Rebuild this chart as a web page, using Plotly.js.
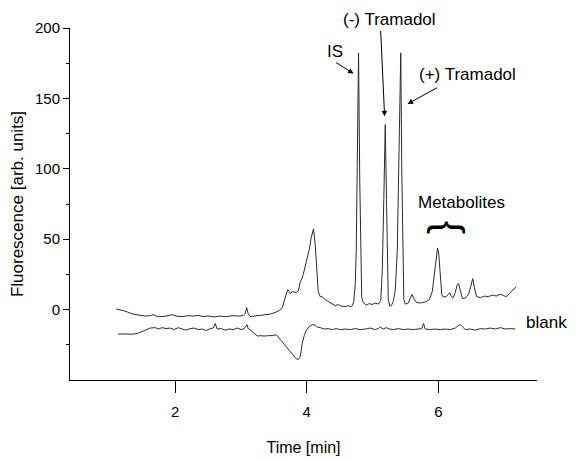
<!DOCTYPE html>
<html>
<head>
<meta charset="utf-8">
<script src="https://cdn.plot.ly/plotly-3.0.1.min.js"></script>
<style>html,body{margin:0;padding:0;background:#fff;}#chart{width:579px;height:461px;}</style>
</head>
<body>
<div id="chart"></div>
<script>
// Sample chromatogram (time in min, fluorescence in arb. units)
var sampleTime = [1.102,1.238,1.360,1.467,1.544,1.621,1.666,1.710,1.801,1.892,1.953,2.014,2.105,2.197,2.273,2.349,2.425,2.501,2.592,2.683,2.775,2.866,2.957,3.033,3.063,3.086,3.109,3.139,3.215,3.291,3.367,3.443,3.519,3.580,3.626,3.656,3.687,3.710,3.732,3.755,3.779,3.809,3.839,3.870,3.900,3.946,3.991,4.037,4.067,4.102,4.128,4.151,4.174,4.204,4.234,4.280,4.356,4.432,4.478,4.523,4.584,4.630,4.660,4.691,4.714,4.737,4.752,4.767,4.787,4.805,4.820,4.835,4.858,4.904,4.950,4.995,5.041,5.087,5.125,5.148,5.171,5.193,5.212,5.224,5.239,5.262,5.285,5.315,5.346,5.376,5.399,5.429,5.444,5.459,5.475,5.497,5.543,5.574,5.599,5.627,5.665,5.726,5.771,5.817,5.863,5.908,5.939,5.969,5.988,6.007,6.029,6.052,6.075,6.121,6.151,6.174,6.197,6.227,6.257,6.288,6.308,6.336,6.366,6.412,6.458,6.488,6.523,6.549,6.580,6.640,6.701,6.762,6.823,6.883,6.942,6.988,7.034,7.079,7.125,7.155,7.186];
var sampleSignal = [0.5,-1.1,-3.2,-4.3,-4.6,-4.3,-3.6,-4.6,-5.0,-4.3,-3.6,-4.6,-5.0,-4.3,-4.6,-4.1,-5.0,-4.5,-5.2,-4.6,-5.0,-4.3,-4.6,-4.3,-2.8,1.4,-2.8,-5.0,-4.6,-4.3,-3.9,-3.2,-2.1,-0.7,1.4,5.7,10.7,14.2,13.1,11.4,12.8,12.4,12.1,13.1,19.2,24.9,32.7,42.6,51.1,57.3,46.2,24.9,12.8,9.2,9.2,7.1,5.0,2.8,3.6,2.5,2.1,2.8,2.1,2.8,5.7,17.8,42.6,92.3,182.3,92.3,35.5,8.5,5.0,3.2,4.3,3.6,4.6,3.9,6.4,28.4,78.1,131.4,78.1,28.4,7.1,2.5,2.8,5.7,14.2,42.6,99.4,182.3,99.4,35.5,7.1,3.9,4.6,8.3,10.7,7.8,5.3,4.6,5.0,5.7,7.1,12.8,24.9,39.1,43.8,39.1,24.9,10.7,8.9,9.2,10.7,12.1,9.2,8.5,12.1,17.8,18.5,14.2,7.8,8.2,10.7,15.6,22.0,15.6,9.2,8.5,9.6,9.2,10.3,9.6,11.0,10.0,9.2,11.4,13.5,14.9,16.3];

// Blank chromatogram
var blankTime = [1.132,1.238,1.345,1.422,1.483,1.544,1.621,1.696,1.741,1.801,1.862,1.923,1.984,2.044,2.105,2.166,2.227,2.288,2.349,2.410,2.471,2.532,2.577,2.608,2.638,2.699,2.760,2.820,2.881,2.942,3.003,3.049,3.090,3.109,3.155,3.201,3.246,3.292,3.352,3.413,3.474,3.535,3.565,3.611,3.672,3.732,3.793,3.839,3.869,3.900,3.915,3.930,3.961,3.991,4.037,4.083,4.128,4.159,4.204,4.265,4.326,4.387,4.448,4.508,4.584,4.660,4.737,4.813,4.889,4.965,5.041,5.087,5.117,5.163,5.208,5.255,5.315,5.391,5.467,5.543,5.619,5.695,5.748,5.775,5.801,5.877,5.953,6.029,6.106,6.182,6.257,6.303,6.334,6.364,6.410,6.486,6.562,6.638,6.714,6.790,6.866,6.942,7.018,7.094,7.170];
var blankSignal = [-17.3,-17.4,-17.4,-17.0,-15.6,-14.6,-13.1,-12.8,-13.8,-12.8,-13.5,-13.1,-14.2,-12.8,-13.8,-14.6,-13.5,-13.1,-14.2,-13.8,-14.9,-13.5,-13.1,-9.9,-13.8,-13.5,-14.6,-13.8,-14.2,-13.1,-14.2,-13.5,-10.7,-13.5,-14.9,-17.0,-18.8,-18.5,-18.8,-18.5,-18.5,-17.8,-19.2,-22.0,-25.6,-29.1,-32.7,-34.8,-35.5,-33.4,-29.1,-24.1,-18.5,-14.9,-12.1,-10.7,-11.0,-12.4,-12.8,-13.8,-13.5,-14.2,-13.5,-14.2,-13.8,-14.2,-13.5,-14.2,-13.8,-13.1,-14.2,-13.5,-12.4,-13.8,-12.8,-13.8,-14.2,-13.5,-14.2,-13.8,-14.2,-13.8,-13.5,-9.9,-13.8,-14.2,-13.8,-14.2,-13.8,-14.2,-13.1,-11.4,-10.7,-12.1,-14.2,-13.8,-14.6,-13.5,-13.8,-13.1,-13.8,-12.8,-13.8,-13.5,-13.8];

var xTickVals = [2, 4, 6];
var xTickText = ['2', '4', '6'];
var yTickVals = [0, 50, 100, 150, 200];
var yTickText = ['0', '50', '100', '150', '200'];

var FONT = 'Liberation Sans, Arial, Helvetica, sans-serif';
var lineColor = '#2b2b2b';

var traces = [
  {x: sampleTime, y: sampleSignal, type: 'scatter', mode: 'lines', line: {color: lineColor, width: 1}, hoverinfo: 'skip', showlegend: false},
  {x: blankTime, y: blankSignal, type: 'scatter', mode: 'lines', line: {color: lineColor, width: 1}, hoverinfo: 'skip', showlegend: false}
];

function label(text, x, y, size, extra) {
  var a = {text: text, x: x, y: y, xref: 'x', yref: 'y', showarrow: false,
           font: {family: FONT, size: size, color: '#000'}, xanchor: 'center', yanchor: 'middle'};
  for (var k in extra) a[k] = extra[k];
  return a;
}
function arrow(x, y, ax, ay) {
  return {text: '', x: x, y: y, xref: 'x', yref: 'y', ax: ax, ay: ay, showarrow: true,
          arrowhead: 2, arrowsize: 1.1, arrowwidth: 1, arrowcolor: '#000', standoff: 0, startstandoff: 0};
}

var annotations = [
  label('IS', 4.432, 183.2, 17),
  arrow(4.711, 167.6, -19, -12),
  label('(-) Tramadol', 0.685, 1.023, 17, {xref: 'paper', yref: 'paper'}),
  arrow(5.183, 137.3, -4, -87),
  label('(+) Tramadol', 6.440, 166.9, 17),
  arrow(5.532, 146.1, 31, -17),
  label('Metabolites', 6.349, 76.0, 17),
  label('{', 6.174, 58.2, 40, {textangle: 90, font: {family: FONT, size: 40, color: '#000'}}),
  label('blank', 1.021, 0.162, 17, {xref: 'paper', yref: 'paper'})
];

var layout = {
  width: 579, height: 461,
  margin: {l: 70, r: 42, t: 28, b: 81, pad: 0},
  paper_bgcolor: '#fff', plot_bgcolor: '#fff',
  font: {family: FONT, color: '#000'},
  xaxis: {
    range: [0.4, 7.5], showline: true, linecolor: '#000', linewidth: 1, mirror: false,
    showgrid: false, zeroline: false,
    tickmode: 'array', tickvals: xTickVals, ticktext: xTickText,
    ticks: 'outside', ticklen: 12, tickwidth: 1, tickcolor: '#000',
    tickfont: {family: FONT, size: 15, color: '#000'}, ticklabelstandoff: 6,
    title: {text: 'Time [min]', font: {family: FONT, size: 16, color: '#000'}, standoff: 22},
    automargin: false, fixedrange: true
  },
  yaxis: {
    range: [-50, 200], showline: true, linecolor: '#000', linewidth: 1,
    showgrid: false, zeroline: false,
    tickmode: 'array', tickvals: yTickVals, ticktext: yTickText,
    ticks: 'outside', ticklen: 6, tickwidth: 1, tickcolor: '#000',
    minor: {tickmode: 'array', tickvals: [-25, 25, 75, 125, 175], ticks: 'outside', ticklen: 3, tickwidth: 1, tickcolor: '#000', showgrid: false},
    tickfont: {family: FONT, size: 15, color: '#000'},
    title: {text: 'Fluorescence [arb. units]', font: {family: FONT, size: 17, color: '#000'}, standoff: 7},
    automargin: false, fixedrange: true
  },
  annotations: annotations,
  showlegend: false
};

Plotly.newPlot('chart', traces, layout, {staticPlot: true, displayModeBar: false});
</script>
</body>
</html>
